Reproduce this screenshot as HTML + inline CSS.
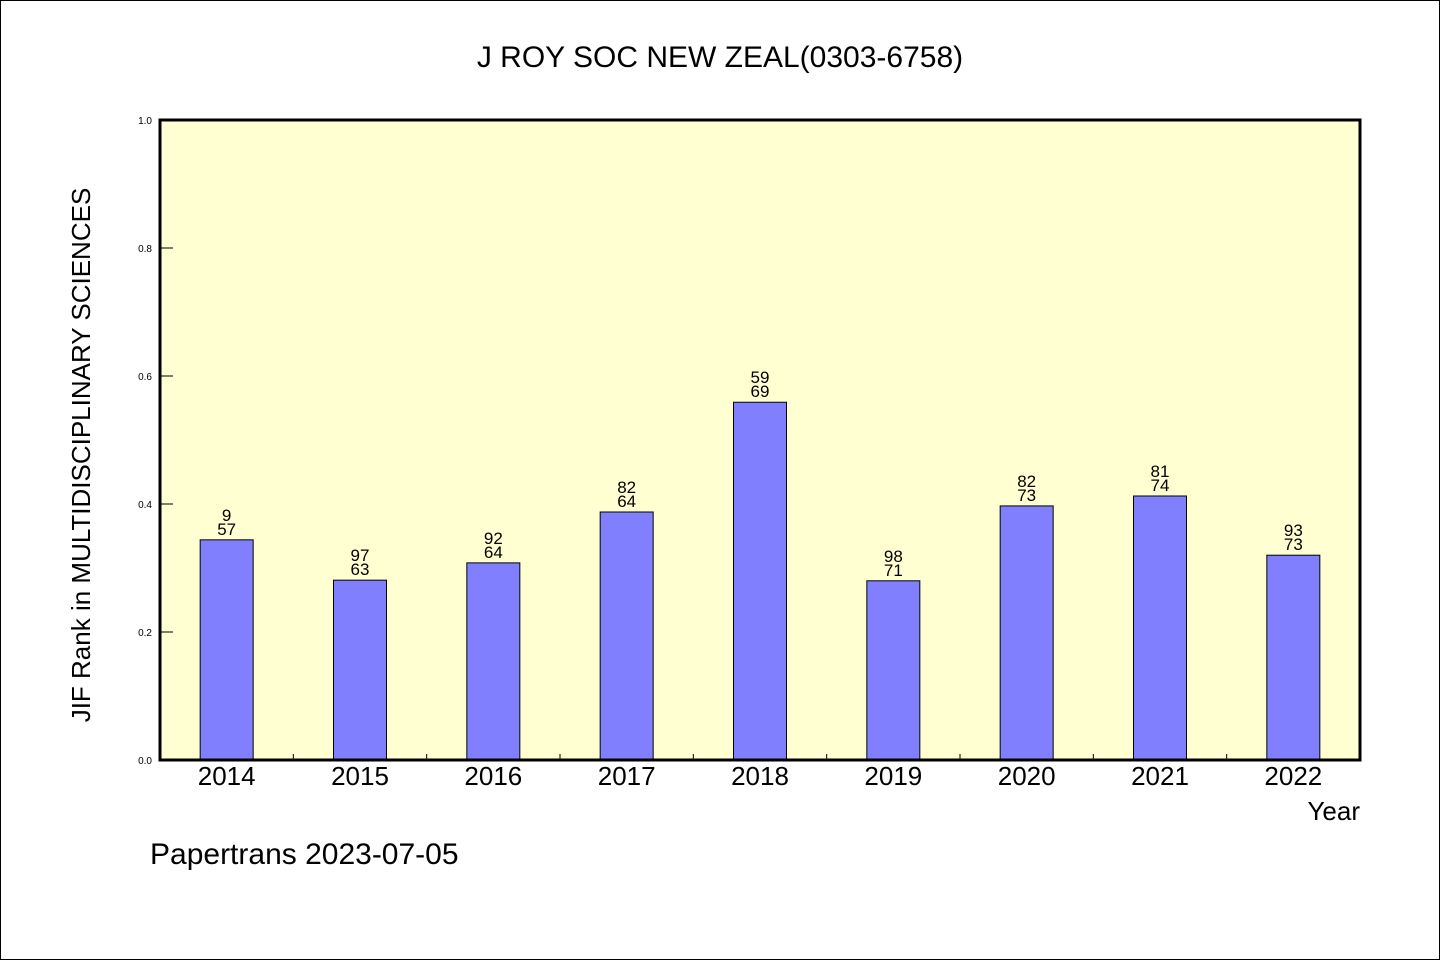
<!DOCTYPE html>
<html><head><meta charset="utf-8"><style>
html,body{margin:0;padding:0;background:#fff}
svg text{font-family:"WenQuanYi Zen Hei","Liberation Sans",sans-serif;fill:#000}
</style></head><body>
<svg id="chart" width="1440" height="960" xmlns="http://www.w3.org/2000/svg">
<rect x="0.5" y="0.5" width="1439" height="959" fill="#fff" stroke="#000"/>
<text x="720" y="67" font-size="30" text-anchor="middle">J ROY SOC NEW ZEAL(0303-6758)</text>
<rect x="160" y="120" width="1200" height="640" fill="#ffffd2"/>
<g id="bars"></g>
<rect x="160" y="120" width="1200" height="640" fill="none" stroke="#000" stroke-width="3"/>
<text transform="translate(90,455) rotate(-90)" font-size="26" text-anchor="middle">JIF Rank in MULTIDISCIPLINARY SCIENCES</text>
<text x="1360" y="820" font-size="26" text-anchor="end">Year</text>
<text x="150" y="864" font-size="30">Papertrans 2023-07-05</text>
</svg>
<script>
const years=["2014","2015","2016","2017","2018","2019","2020","2021","2022"];
const values=[0.344,0.281,0.308,0.3875,0.559,0.280,0.397,0.4125,0.320];
const topLabels=["9","97","92","82","59","98","82","81","93"];
const bottomLabels=["57","63","64","64","69","71","73","74","73"];
const yTicks=[0,0.2,0.4,0.6,0.8,1.0];
const ns="http://www.w3.org/2000/svg";
const x0=160,w=1200,y0=760,h=640;
const band=w/years.length;
const xs=i=>x0+band*(i+0.5);
const ys=v=>y0-v*h;
const g=document.getElementById('bars');
function mk(t,a){const e=document.createElementNS(ns,t);for(const k in a)e.setAttribute(k,a[k]);return e;}
yTicks.forEach(v=>{
  const l=mk('line',{x1:x0,x2:x0+13,y1:ys(v),y2:ys(v),stroke:'#000'});
  
  
  g.appendChild(l);
  const t=mk('text',{x:x0-8,y:ys(v)+4,'font-size':'10','text-anchor':'end'});
  
  
  t.textContent=v.toFixed(1);g.appendChild(t);
});
years.forEach((yr,i)=>{
  if(i>0){const tk=mk('line',{x1:x0+band*i,x2:x0+band*i,y1:y0,y2:y0-6,stroke:'#000'});
    
    
    g.appendChild(tk);}
  const b=mk('rect',{x:xs(i)-26.5,y:ys(values[i]),width:53,height:values[i]*h,fill:'#8080ff',stroke:'#000','stroke-width':'1'});
  
  
  g.appendChild(b);
  const t1=mk('text',{x:xs(i),y:ys(values[i])-19,'font-size':'17','text-anchor':'middle'});
  
  
  t1.textContent=topLabels[i];g.appendChild(t1);
  const t2=mk('text',{x:xs(i),y:ys(values[i])-5,'font-size':'17','text-anchor':'middle'});
  
  
  t2.textContent=bottomLabels[i];g.appendChild(t2);
  const xl=mk('text',{x:xs(i),y:y0+25,'font-size':'26','text-anchor':'middle'});
  
  
  xl.textContent=yr;g.appendChild(xl);
});
</script>
</body></html>
